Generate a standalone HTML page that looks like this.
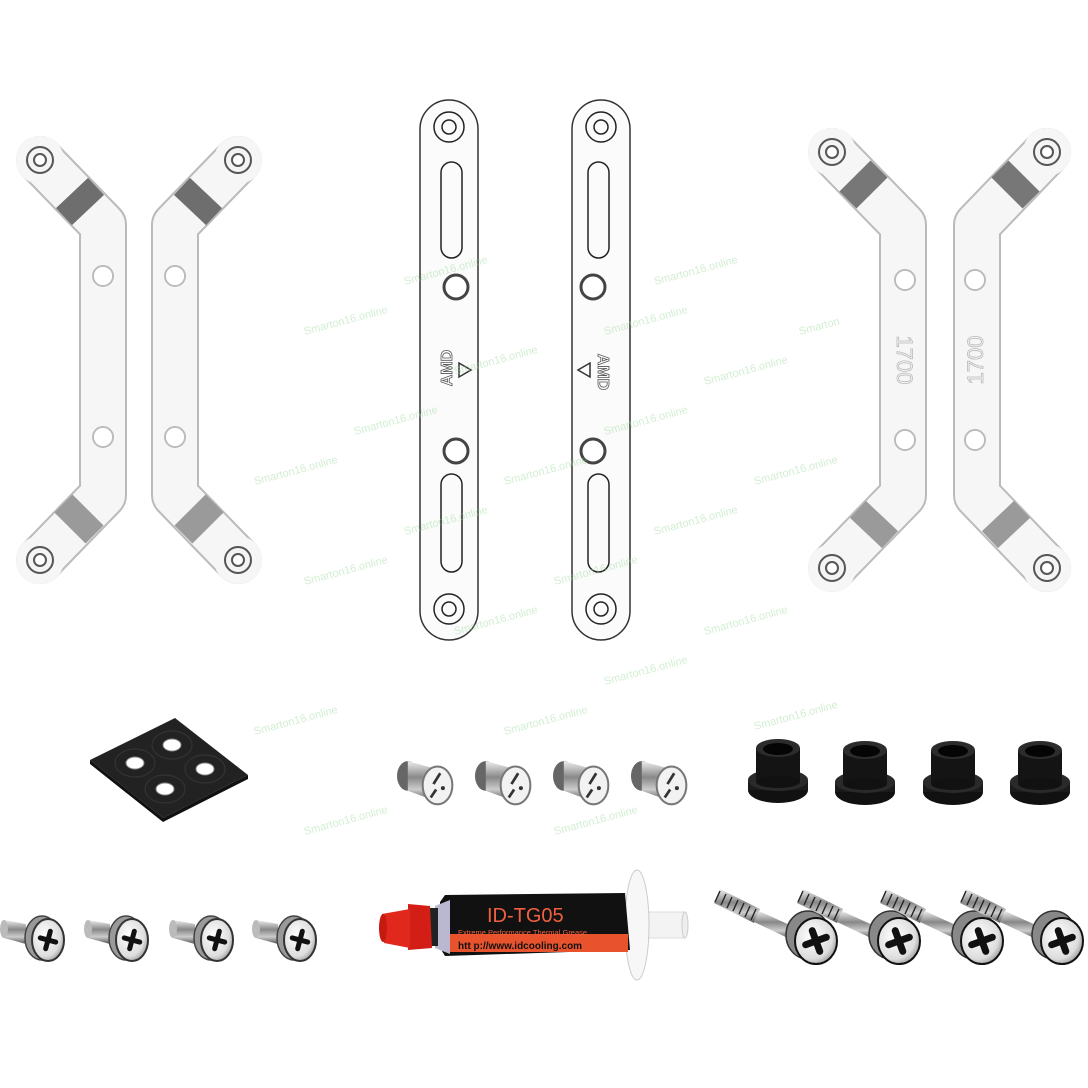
<!DOCTYPE html>
<html><head><meta charset="utf-8"><style>
html,body{margin:0;padding:0;background:#fff}
svg{display:block}
text{font-family:"Liberation Sans",sans-serif}
</style></head><body>
<svg width="1088" height="1088" viewBox="0 0 1088 1088" xmlns="http://www.w3.org/2000/svg">
<defs>
  <linearGradient id="metal" x1="0" y1="0" x2="0" y2="1">
    <stop offset="0" stop-color="#eee"/><stop offset="0.4" stop-color="#888"/><stop offset="0.7" stop-color="#ccc"/><stop offset="1" stop-color="#555"/>
  </linearGradient>
  <radialGradient id="face" cx="0.4" cy="0.4" r="0.7">
    <stop offset="0" stop-color="#fff"/><stop offset="0.7" stop-color="#ddd"/><stop offset="1" stop-color="#888"/>
  </radialGradient>
  <g id="ring">
    <circle r="13" fill="#f4f4f4" stroke="#555" stroke-width="2"/>
    <circle r="6" fill="#fff" stroke="#555" stroke-width="2"/>
  </g>
  <g id="hole"><circle r="10" fill="#fff" stroke="#bbb" stroke-width="2"/><circle r="9" fill="#fff"/></g>
  <g id="pin">
    <ellipse cx="-12" cy="-3" rx="8" ry="11" fill="#666"/>
    <path d="M-12,-14 L10,-8 L10,16 L-12,8 Z" fill="url(#metal)"/>
    <ellipse cx="10" cy="4" rx="11" ry="14" fill="#f2f2f2" stroke="#777" stroke-width="1.5"/>
    <line x1="12" y1="-5" x2="7" y2="3" stroke="#333" stroke-width="2"/>
    <line x1="9" y1="7" x2="5" y2="13" stroke="#333" stroke-width="2"/>
    <circle cx="14" cy="6" r="1.5" fill="#333"/>
  </g>
  <g id="grom">
    <ellipse cx="0" cy="42" rx="30" ry="13" fill="#111"/>
    <rect x="-30" y="32" width="60" height="10" fill="#1a1a1a"/>
    <ellipse cx="0" cy="32" rx="30" ry="11" fill="#2a2a2a"/>
    <rect x="-22" y="0" width="44" height="34" fill="#141414"/>
    <ellipse cx="0" cy="34" rx="22" ry="6" fill="#111"/>
    <ellipse cx="0" cy="0" rx="22" ry="9" fill="#2c2c2c"/>
    <ellipse cx="0" cy="1" rx="15" ry="6" fill="#050505"/>
  </g>
  <g id="thumb">
    <path d="M-42,-18 L-20,-14 L-20,6 L-42,0 Z" fill="url(#metal)"/>
    <ellipse cx="-42" cy="-9" rx="4" ry="9" fill="#bbb"/>
    <ellipse cx="-4" cy="0" rx="17" ry="22" fill="#999" stroke="#444" stroke-width="1.5"/>
    <ellipse cx="2" cy="2" rx="16" ry="21" fill="url(#face)" stroke="#333" stroke-width="2"/>
    <path d="M-6,2 L10,2 M2,-7 L2,11" stroke="#111" stroke-width="5" stroke-linecap="round" transform="rotate(15 2 2)"/>
  </g>
  <g id="long">
    <path d="M-92,-48 L-52,-28 L-58,-14 L-98,-34 Z" fill="url(#metal)"/>
    <g stroke="#222" stroke-width="1.4">
      <line x1="-92" y1="-46" x2="-97" y2="-35"/><line x1="-86" y1="-43" x2="-91" y2="-32"/><line x1="-80" y1="-40" x2="-85" y2="-29"/><line x1="-74" y1="-37" x2="-79" y2="-26"/><line x1="-68" y1="-34" x2="-73" y2="-23"/><line x1="-62" y1="-31" x2="-67" y2="-20"/><line x1="-56" y1="-28" x2="-61" y2="-17"/>
    </g>
    <path d="M-53,-26 L-18,-10 L-22,2 L-58,-15 Z" fill="url(#metal)"/>
    <ellipse cx="-4" cy="-2" rx="22" ry="24" fill="#888" stroke="#333" stroke-width="1.5"/>
    <ellipse cx="4" cy="4" rx="21" ry="23" fill="url(#face)" stroke="#111" stroke-width="2"/>
    <path d="M-7,4 L15,4 M4,-7 L4,15" stroke="#111" stroke-width="7" stroke-linecap="round" transform="rotate(-20 4 4)"/>
  </g>
</defs>

<g stroke-linejoin="round" stroke-linecap="round" fill="none">
  <path d="M40,160 L103,225 L103,495 L40,560" stroke="#bbb" stroke-width="48"/>
  <path d="M40,160 L103,225 L103,495 L40,560" stroke="#f6f6f6" stroke-width="44"/>
  <path d="M238,160 L175,225 L175,495 L238,560" stroke="#bbb" stroke-width="48"/>
  <path d="M238,160 L175,225 L175,495 L238,560" stroke="#f6f6f6" stroke-width="44"/>
  <path d="M832,152 L903,225 L903,495 L832,568" stroke="#bbb" stroke-width="48"/>
  <path d="M832,152 L903,225 L903,495 L832,568" stroke="#f6f6f6" stroke-width="44"/>
  <path d="M1047,152 L977,225 L977,495 L1047,568" stroke="#bbb" stroke-width="48"/>
  <path d="M1047,152 L977,225 L977,495 L1047,568" stroke="#f6f6f6" stroke-width="44"/>
  <path d="M72,193 L88,210" stroke="#6e6e6e" stroke-width="44" stroke-linecap="butt"/>
  <path d="M206,193 L190,210" stroke="#6e6e6e" stroke-width="44" stroke-linecap="butt"/>
  <path d="M88,510 L70,528" stroke="#9a9a9a" stroke-width="44" stroke-linecap="butt"/>
  <path d="M190,510 L208,528" stroke="#9a9a9a" stroke-width="44" stroke-linecap="butt"/>
  <path d="M855,176 L872,193" stroke="#777" stroke-width="44" stroke-linecap="butt"/>
  <path d="M1024,176 L1007,193" stroke="#777" stroke-width="44" stroke-linecap="butt"/>
  <path d="M882,516 L866,533" stroke="#9a9a9a" stroke-width="44" stroke-linecap="butt"/>
  <path d="M998,516 L1014,533" stroke="#9a9a9a" stroke-width="44" stroke-linecap="butt"/>
</g>
<circle cx="40" cy="160" r="24" fill="#f6f6f6"/><circle cx="40" cy="560" r="24" fill="#f6f6f6"/>
<circle cx="238" cy="160" r="24" fill="#f6f6f6"/><circle cx="238" cy="560" r="24" fill="#f6f6f6"/>
<circle cx="832" cy="152" r="24" fill="#f6f6f6"/><circle cx="832" cy="568" r="24" fill="#f6f6f6"/>
<circle cx="1047" cy="152" r="24" fill="#f6f6f6"/><circle cx="1047" cy="568" r="24" fill="#f6f6f6"/>
<use href="#ring" x="40" y="160"/><use href="#ring" x="40" y="560"/>
<use href="#ring" x="238" y="160"/><use href="#ring" x="238" y="560"/>
<use href="#ring" x="832" y="152"/><use href="#ring" x="832" y="568"/>
<use href="#ring" x="1047" y="152"/><use href="#ring" x="1047" y="568"/>
<use href="#hole" x="103" y="276"/><use href="#hole" x="103" y="437"/>
<use href="#hole" x="175" y="276"/><use href="#hole" x="175" y="437"/>
<use href="#hole" x="905" y="280"/><use href="#hole" x="905" y="440"/>
<use href="#hole" x="975" y="280"/><use href="#hole" x="975" y="440"/>
<text transform="translate(897,360) rotate(90)" font-size="22" fill="#f4f4f4" stroke="#bbb" stroke-width="0.8" text-anchor="middle" font-family="Liberation Mono">1700</text>
<text transform="translate(983,360) rotate(-90)" font-size="22" fill="#f4f4f4" stroke="#bbb" stroke-width="0.8" text-anchor="middle" font-family="Liberation Mono">1700</text>

<g>
  <rect x="420" y="100" width="58" height="540" rx="29" fill="#fbfbfb" stroke="#333" stroke-width="1.5"/>
  <rect x="572" y="100" width="58" height="540" rx="29" fill="#fbfbfb" stroke="#333" stroke-width="1.5"/>
  <g fill="none" stroke="#222" stroke-width="1.5">
    <circle cx="449" cy="127" r="15"/><circle cx="449" cy="127" r="7"/>
    <circle cx="449" cy="609" r="15"/><circle cx="449" cy="609" r="7"/>
    <circle cx="601" cy="127" r="15"/><circle cx="601" cy="127" r="7"/>
    <circle cx="601" cy="609" r="15"/><circle cx="601" cy="609" r="7"/>
    <rect x="441" y="162" width="21" height="96" rx="10.5"/>
    <rect x="441" y="474" width="21" height="98" rx="10.5"/>
    <rect x="588" y="162" width="21" height="96" rx="10.5"/>
    <rect x="588" y="474" width="21" height="98" rx="10.5"/>
  </g>
  <g fill="#fff" stroke="#444" stroke-width="3">
    <circle cx="456" cy="287" r="12"/><circle cx="456" cy="451" r="12"/>
    <circle cx="593" cy="287" r="12"/><circle cx="593" cy="451" r="12"/>
  </g>
  <text transform="translate(452,368) rotate(-90)" font-size="16" font-weight="bold" fill="#fff" stroke="#555" stroke-width="0.8" text-anchor="middle">AMD</text>
  <polygon points="459,363 459,377 471,370" fill="none" stroke="#333" stroke-width="1.5"/>
  <text transform="translate(598,372) rotate(90)" font-size="16" font-weight="bold" fill="#fff" stroke="#555" stroke-width="0.8" text-anchor="middle">AMD</text>
  <polygon points="590,363 590,377 578,370" fill="none" stroke="#333" stroke-width="1.5"/>
</g>

<polygon points="90,760 175,718 248,775 163,818" fill="#222"/>
<polygon points="90,760 90,764 163,822 248,779 248,775 163,818" fill="#111"/>
<g fill="none" stroke="#333" stroke-width="1.2">
<ellipse cx="172" cy="745" rx="20" ry="14"/><ellipse cx="135" cy="763" rx="20" ry="14"/><ellipse cx="205" cy="769" rx="20" ry="14"/><ellipse cx="165" cy="789" rx="20" ry="14"/>
</g>
<g fill="#fff" stroke="#888" stroke-width="1">
<ellipse cx="172" cy="745" rx="9" ry="6"/><ellipse cx="135" cy="763" rx="9" ry="6"/><ellipse cx="205" cy="769" rx="9" ry="6"/><ellipse cx="165" cy="789" rx="9" ry="6"/>
</g>

<g transform="translate(424,780) scale(1.35)"><use href="#pin"/></g>
<g transform="translate(502,780) scale(1.35)"><use href="#pin"/></g>
<g transform="translate(580,780) scale(1.35)"><use href="#pin"/></g>
<g transform="translate(658,780) scale(1.35)"><use href="#pin"/></g>

<use href="#grom" x="778" y="748"/><use href="#grom" x="865" y="750"/>
<use href="#grom" x="953" y="750"/><use href="#grom" x="1040" y="750"/>

<use href="#thumb" x="46" y="938"/><use href="#thumb" x="130" y="938"/>
<use href="#thumb" x="215" y="938"/><use href="#thumb" x="298" y="938"/>

<use href="#long" x="812" y="937"/><use href="#long" x="895" y="937"/>
<use href="#long" x="978" y="937"/><use href="#long" x="1058" y="937"/>

<g>
  <rect x="640" y="912" width="45" height="26" fill="#f3f3f3" stroke="#ddd"/>
  <ellipse cx="685" cy="925" rx="3" ry="13" fill="#eee" stroke="#ccc"/>
  <ellipse cx="637" cy="925" rx="12" ry="55" fill="#f7f7f7" stroke="#ccc"/>
  <path d="M440,902 L445,895 L625,893 L630,950 L445,956 L440,948 Z" fill="#111"/>
  <rect x="446" y="934" width="182" height="18" fill="#e8532e"/>
  <path d="M435,906 L450,900 L450,954 L435,948 Z" fill="#b9b8d0"/>
  <rect x="420" y="908" width="18" height="38" fill="#222"/>
  <path d="M408,904 L430,906 L432,948 L408,950 Z" fill="#d21e14"/>
  <path d="M382,914 Q380,928 384,943 L410,948 L410,909 Z" fill="#e0281c"/>
  <ellipse cx="383" cy="928" rx="4" ry="14" fill="#c41a10"/>
  <text x="487" y="922" font-size="20" fill="#f06040">ID-TG05</text>
  <text x="458" y="935" font-size="7.5" fill="#f06040">Extreme Performance Thermal Grease</text>
  <text x="458" y="949" font-size="10" font-weight="bold" fill="#111">htt p://www.idcooling.com</text>
</g>

<g font-size="11" fill="#9ad89a" opacity="0.45">
  <text transform="translate(305,335) rotate(-15)">Smarton16.online</text>
  <text transform="translate(405,285) rotate(-15)">Smarton16.online</text>
  <text transform="translate(455,375) rotate(-15)">Smarton16.online</text>
  <text transform="translate(355,435) rotate(-15)">Smarton16.online</text>
  <text transform="translate(255,485) rotate(-15)">Smarton16.online</text>
  <text transform="translate(505,485) rotate(-15)">Smarton16.online</text>
  <text transform="translate(405,535) rotate(-15)">Smarton16.online</text>
  <text transform="translate(305,585) rotate(-15)">Smarton16.online</text>
  <text transform="translate(555,585) rotate(-15)">Smarton16.online</text>
  <text transform="translate(455,635) rotate(-15)">Smarton16.online</text>
  <text transform="translate(605,335) rotate(-15)">Smarton16.online</text>
  <text transform="translate(655,285) rotate(-15)">Smarton16.online</text>
  <text transform="translate(705,385) rotate(-15)">Smarton16.online</text>
  <text transform="translate(605,435) rotate(-15)">Smarton16.online</text>
  <text transform="translate(755,485) rotate(-15)">Smarton16.online</text>
  <text transform="translate(655,535) rotate(-15)">Smarton16.online</text>
  <text transform="translate(705,635) rotate(-15)">Smarton16.online</text>
  <text transform="translate(605,685) rotate(-15)">Smarton16.online</text>
  <text transform="translate(505,735) rotate(-15)">Smarton16.online</text>
  <text transform="translate(755,730) rotate(-15)">Smarton16.online</text>
  <text transform="translate(255,735) rotate(-15)">Smarton16.online</text>
  <text transform="translate(305,835) rotate(-15)">Smarton16.online</text>
  <text transform="translate(555,835) rotate(-15)">Smarton16.online</text>
  <text transform="translate(800,335) rotate(-15)">Smarton</text>
</g>
</svg>
</body></html>
